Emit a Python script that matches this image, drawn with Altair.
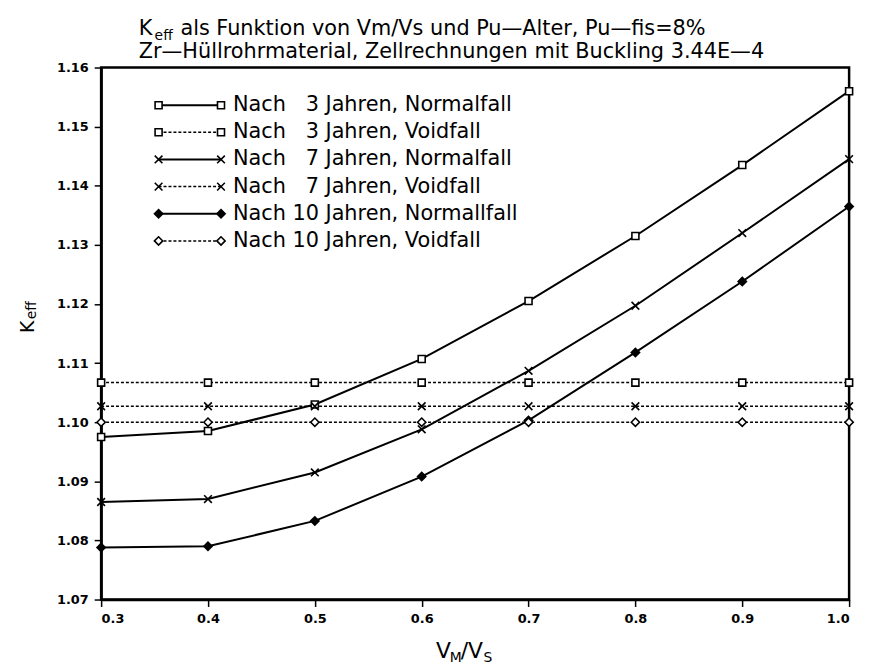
import altair as alt
import pandas as pd

# ---------------- data ----------------
x_vals = [0.3, 0.4, 0.5, 0.6, 0.7, 0.8, 0.9, 1.0]
n3 = [1.0975, 1.0985, 1.1030, 1.1107, 1.1205, 1.1315, 1.1435, 1.1560]
v3 = [1.1067, 1.1067, 1.1067, 1.1067, 1.1067, 1.1067, 1.1067, 1.1067]
n7 = [1.0865, 1.0870, 1.0915, 1.0988, 1.1087, 1.1197, 1.1320, 1.1445]
v7 = [1.1027, 1.1027, 1.1027, 1.1027, 1.1027, 1.1027, 1.1027, 1.1027]
n10 = [1.0788, 1.0790, 1.0833, 1.0908, 1.1003, 1.1118, 1.1238, 1.1365]
v10 = [1.1000, 1.1000, 1.1000, 1.1000, 1.1000, 1.1000, 1.1000, 1.1000]

series_keys = ["3N", "3V", "7N", "7V", "10N", "10V"]
series_ages = ["3", "3", "7", "7", "10", "10"]
series_cases = ["Normalfall", "Voidfall", "Normalfall", "Voidfall", "Normalfall", "Voidfall"]
series_vals = [n3, v3, n7, v7, n10, v10]
legend_labels = [
    "Nach \u20073 Jahren, Normalfall",
    "Nach \u20073 Jahren, Voidfall",
    "Nach \u20077 Jahren, Normalfall",
    "Nach \u20077 Jahren, Voidfall",
    "Nach 10 Jahren, Normallfall",
    "Nach 10 Jahren, Voidfall",
]
x_ticks = [0.3, 0.4, 0.5, 0.6, 0.7, 0.8, 0.9, 1.0]
y_ticks = [1.07, 1.08, 1.09, 1.10, 1.11, 1.12, 1.13, 1.14, 1.15, 1.16]

title1_rest = "als Funktion von Vm/Vs und Pu\u2014Alter, Pu\u2014fis=8%"
title2 = "Zr\u2014H\u00fcllrohrmaterial, Zellrechnungen mit Buckling 3.44E\u20144"

rows = []
for k, a, c, vals in zip(series_keys, series_ages, series_cases, series_vals):
    for xv, yv in zip(x_vals, vals):
        rows.append({"key": k, "age": a, "case": c, "x": xv, "y": yv})
df = pd.DataFrame(rows)

leg = pd.DataFrame({"key": series_keys, "age": series_ages, "case": series_cases,
                    "label": legend_labels, "row": list(range(len(series_keys)))})

FONT = "DejaVu Sans"
XPATH = "M-1,-1L1,1M-1,1L1,-1"
shape_enc = alt.Shape("age:N", scale=alt.Scale(domain=["3", "7", "10"],
                                               range=["square", XPATH, "diamond"]), legend=None)
size_enc = alt.Size("age:N", scale=alt.Scale(domain=["3", "7", "10"], range=[50, 70, 55]), legend=None)
fill_enc = alt.condition(alt.datum.key == "10N", alt.value("black"), alt.value("white"))

xs = alt.X("x:Q", scale=alt.Scale(domain=[0.3, 1.0], nice=False, zero=False),
           axis=alt.Axis(values=x_ticks, format=".1f", title=None))
ys = alt.Y("y:Q", scale=alt.Scale(domain=[1.07, 1.16], nice=False, zero=False),
           axis=alt.Axis(values=y_ticks, format=".2f", title=None))

base = alt.Chart(df)
lines_n = base.transform_filter(alt.datum.case == "Normalfall").mark_line(
    color="black", strokeWidth=2).encode(x=xs, y=ys, detail="key:N")
lines_v = base.transform_filter(alt.datum.case == "Voidfall").mark_line(
    color="black", strokeWidth=1.5, strokeDash=[3, 2]).encode(x=xs, y=ys, detail="key:N")
pts = base.mark_point(stroke="black", strokeWidth=1.6, opacity=1).encode(
    x=xs, y=ys, shape=shape_enc, size=size_enc, fill=fill_enc)
main = alt.layer(lines_n, lines_v, pts)

# ---------------- legend ----------------
lb = alt.Chart(leg).transform_calculate(ly="38 + datum.row * 27.4")
ly = alt.Y("ly:Q", scale=None)
leg_rule_n = lb.transform_filter(alt.datum.case == "Normalfall").mark_rule(
    color="black", strokeWidth=2).encode(x=alt.value(58), x2=alt.value(121), y=ly)
leg_rule_v = lb.transform_filter(alt.datum.case == "Voidfall").mark_rule(
    color="black", strokeWidth=1.5, strokeDash=[3, 2]).encode(x=alt.value(58), x2=alt.value(121), y=ly)
leg_pt_l = lb.mark_point(stroke="black", strokeWidth=1.6, opacity=1).encode(
    x=alt.value(58), y=ly, shape=shape_enc, size=size_enc, fill=fill_enc)
leg_pt_r = lb.mark_point(stroke="black", strokeWidth=1.6, opacity=1).encode(
    x=alt.value(121), y=ly, shape=shape_enc, size=size_enc, fill=fill_enc)
leg_txt = lb.mark_text(align="left", baseline="middle", font=FONT, fontSize=21,
                       color="black").encode(x=alt.value(133), y=ly, text="label:N")
legend = alt.layer(leg_rule_n, leg_rule_v, leg_pt_l, leg_pt_r, leg_txt)

# ---------------- titles ----------------
def txt(s, x, y, size, align="left", angle=0, baseline="alphabetic"):
    kw = dict(align=align, baseline=baseline, font=FONT, fontSize=size, color="black")
    if angle:
        kw["angle"] = angle
    return alt.Chart(pd.DataFrame({"t": [s]})).mark_text(**kw).encode(
        x=alt.value(x), y=alt.value(y), text="t:N")

t0 = 38
titles = alt.layer(
    txt("K", t0, -33, 21),
    txt("eff", t0 + 16, -28, 14),
    txt(title1_rest, t0 + 42, -33, 21),
    txt(title2, t0, -10, 21),
    # y axis title K_eff
    txt("K", -74, 268, 19, angle=270, baseline="middle"),
    txt("eff", -70, 254, 14, angle=270, baseline="middle"),
    # x axis title V_M/V_S
    txt("V", 338, 596, 22),
    txt("M", 352, 600, 14),
    txt("/V", 363, 596, 22),
    txt("S", 386, 600, 14),
)

chart = alt.layer(main, legend, titles).resolve_scale(
    x="independent", y="independent", shape="shared", size="shared"
).properties(
    width=755, height=537,
    autosize=alt.AutoSizeParams(type="none"),
    padding={"left": 94, "top": 57, "right": 12, "bottom": 64},
).configure_view(stroke="black", strokeWidth=2.5).configure_axis(
    domainColor="black", domainWidth=2.5, tickColor="black", tickWidth=1.5, tickSize=7,
    labelFont=FONT, labelFontSize=13, labelFontWeight="bold", labelColor="black",
    grid=False, labelPadding=6,
)

chart.save("out.html", embed_options={"renderer": "svg", "actions": False})
